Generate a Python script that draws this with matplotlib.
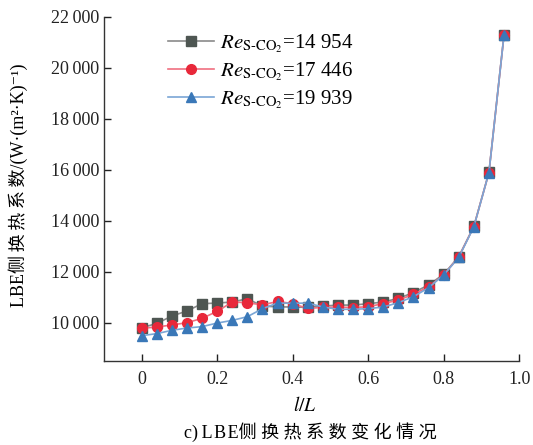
import numpy as np
import matplotlib.pyplot as plt
from matplotlib.ticker import FuncFormatter, MultipleLocator

plt.rcParams['font.family'] = ['Liberation Serif', 'Noto Sans CJK SC', 'DejaVu Sans']
plt.rcParams['mathtext.fontset'] = 'stix'

# axial position along the exchanger
x = np.arange(25) * 0.04

h_14954 = [9800, 9970, 10260, 10460, 10745, 10770, 10810, 10940, 10650, 10620,
           10615, 10600, 10650, 10690, 10690, 10745, 10810, 10955, 11180, 11480,
           11900, 12590, 13780, 15900, 21300]
h_17446 = [9780, 9830, 9910, 10000, 10170, 10445, 10810, 10785, 10695, 10835,
           10745, 10560, 10600, 10615, 10590, 10630, 10745, 10890, 11110, 11410,
           11870, 12580, 13770, 15890, 21300]
h_19939 = [9490, 9570, 9700, 9790, 9845, 9985, 10090, 10235, 10550, 10770,
           10760, 10770, 10615, 10525, 10525, 10550, 10615, 10785, 11020, 11370,
           11870, 12560, 13760, 15890, 21300]

labels = [r'$\mathit{Re}_{\mathrm{S\text{-}CO_2}}$=14 954',
          r'$\mathit{Re}_{\mathrm{S\text{-}CO_2}}$=17 446',
          r'$\mathit{Re}_{\mathrm{S\text{-}CO_2}}$=19 939']

fig = plt.figure(figsize=(5.33, 4.45), dpi=100)
ax = fig.add_axes([0.195, 0.189, 0.779, 0.773])

ax.plot(x, h_14954, color='#8a8a8a', lw=1.2, marker='s', ms=6.5,
        mfc='#4e5652', mec='#4e5652', label=labels[0])
ax.plot(x, h_17446, color='#f07080', lw=1.2, marker='o', ms=7,
        mfc='#e8283a', mec='#e8283a', label=labels[1])
ax.plot(x, h_19939, color='#7aa6d6', lw=1.2, marker='^', ms=7.5,
        mfc='#3a78b8', mec='#3a78b8', label=labels[2])

ax.set_xlim(-0.1, 1.0)
ax.set_ylim(8500, 22000)
ax.xaxis.set_major_locator(MultipleLocator(0.2))
ax.yaxis.set_major_locator(MultipleLocator(2000))
ax.xaxis.set_major_formatter(FuncFormatter(lambda v, p: '0' if abs(v) < 1e-9 else f'{v:.1f}'))
ax.yaxis.set_major_formatter(FuncFormatter(lambda v, p: f'{int(v):,}'.replace(',', '\u2009')))

ax.spines['top'].set_visible(False)
ax.spines['right'].set_visible(False)
for s in ('left', 'bottom'):
    ax.spines[s].set_color('#333333')
    ax.spines[s].set_linewidth(1.0)
ax.tick_params(direction='in', length=5, width=1, labelsize=13, colors='#222222')
ax.tick_params(axis='x', pad=7)

ax.set_xlabel('$l/L$', fontsize=14)
ax.xaxis.set_label_coords(0.485, -0.102)
ax.set_ylabel('LBE侧\u2009换\u2009热\u2009系\u2009数/(W·(m²·K)⁻¹)', fontsize=13)
ax.yaxis.set_label_coords(-0.183, 0.512)

ax.legend(loc='upper left', bbox_to_anchor=(0.13, 0.985), frameon=False,
          fontsize=15, handlelength=2.2, handletextpad=0.3, labelspacing=0.25,
          borderpad=0)

fig.text(0.582, 0.028, 'c)\u2009L\u200aB\u200aE侧 换 热 系 数 变 化 情 况',
         ha='center', va='center', fontsize=13)

fig.savefig('out.png', dpi=100)
